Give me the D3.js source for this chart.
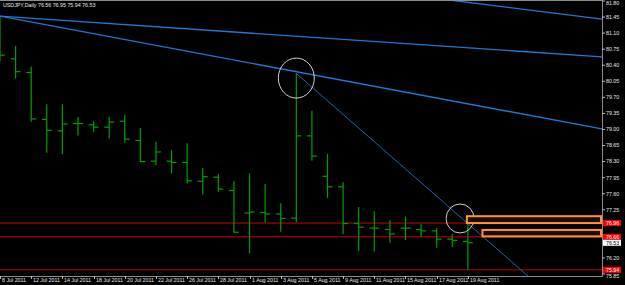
<!DOCTYPE html>
<html>
<head>
<meta charset="utf-8">
<script src="https://cdn.jsdelivr.net/npm/d3@7"></script>
<style>
  html, body { margin: 0; padding: 0; background: #000; }
  #chart { width: 625px; height: 285px; }
  text { font-family: "Liberation Sans", Arial, sans-serif; }
</style>
</head>
<body>
<div id="chart"></div>
<script>
/*
USDJPY daily bar chart
*/

// Bar dates (one per trading day)
var dates = ["8 Jul 2011", "11 Jul 2011", "12 Jul 2011", "13 Jul 2011", "14 Jul 2011", "15 Jul 2011",
	"18 Jul 2011", "19 Jul 2011", "20 Jul 2011", "21 Jul 2011", "22 Jul 2011",
	"25 Jul 2011", "26 Jul 2011", "27 Jul 2011", "28 Jul 2011", "29 Jul 2011",
	"1 Aug 2011", "2 Aug 2011", "3 Aug 2011", "4 Aug 2011", "5 Aug 2011",
	"8 Aug 2011", "9 Aug 2011", "10 Aug 2011", "11 Aug 2011", "12 Aug 2011",
	"15 Aug 2011", "16 Aug 2011", "17 Aug 2011", "18 Aug 2011", "19 Aug 2011"];

var opens  = [81.17, 80.54, 80.24, 79.22, 78.97, 79.13, 79.10, 79.05, 79.18, 78.76, 78.31, 78.31, 78.28, 77.87, 77.96, 77.67,
	77.18, 77.19, 77.16, 77.07, 78.86, 77.98, 77.75, 76.95, 76.85, 76.82, 76.85, 76.82, 76.79, 76.61, 76.56];
var highs  = [81.47, 80.82, 80.37, 79.55, 79.55, 79.27, 79.18, 79.27, 79.32, 79.03, 78.73, 78.55, 78.70, 78.16, 78.03, 77.87,
	78.04, 77.81, 77.39, 80.22, 79.41, 78.47, 77.85, 77.31, 77.22, 77.02, 77.10, 76.94, 76.85, 76.72, 76.95];
var lows   = [80.49, 80.11, 79.17, 78.49, 78.46, 78.87, 78.94, 78.81, 78.71, 78.29, 78.22, 78.04, 77.83, 77.58, 77.64, 76.75,
	76.30, 76.97, 76.77, 76.98, 78.32, 77.51, 76.72, 76.35, 76.34, 76.53, 76.59, 76.66, 76.42, 76.44, 75.94];
var closes = [80.62, 80.26, 79.23, 78.98, 79.12, 79.13, 79.05, 79.16, 78.79, 78.30, 78.51, 78.28, 77.88, 77.97, 77.70, 76.76,
	77.20, 77.16, 77.06, 78.86, 78.42, 77.75, 76.95, 76.87, 76.85, 76.72, 76.85, 76.79, 76.61, 76.58, 76.53];

// Price axis labels
var priceTicks = [81.80, 81.45, 81.10, 80.75, 80.40, 80.05, 79.70, 79.35, 79.00, 78.65, 78.30, 77.95, 77.60, 77.25, 76.90, 76.55, 76.20, 75.85];

// Horizontal lines, last price
var levels = [76.96, 76.66, 75.94];
var lastPrice = 76.53;

// Trend lines: [bar1, price1, bar2, price2]
var trendWide = [[30, 81.77, 38, 81.43], [0, 81.47, 30, 80.78], [0, 81.47, 30, 79.56]];
var trendThin = [[19, 80.22, 30, 76.95]];

// Rectangles: [start bar, top price, bottom price]
var zones = [[30, 77.11, 76.96], [31, 76.81, 76.67]];

// Circles: [bar, price]
var marks = [[19, 80.12], [29.5, 77.06]];

class BarChart{

	constructor(_parentElement){
		this.parentElement = _parentElement;

		this.initializeChart();
	}

	initializeChart(){
		var vis = this;

		vis.width = 602;
		vis.height = 276;

		vis.svg = d3.select(vis.parentElement).append("svg")
			.attr("width", 625)
			.attr("height", 285);

		vis.svg.append("rect")
			.attr("width", 625)
			.attr("height", 285)
			.attr("fill", "#000");

		vis.svg.append("clipPath")
			.attr("id", "plot-clip")
			.append("rect")
			.attr("width", vis.width)
			.attr("height", vis.height);

		// Scales
		vis.x = d3.scaleLinear()
			.domain([0, 38.6])
			.range([0, vis.width]);

		vis.y = d3.scaleLinear()
			.domain([75.85, 81.80])
			.range([274, 1]);

		vis.plot = vis.svg.append("g")
			.attr("clip-path", "url(#plot-clip)");

		vis.wrangleData();
	}

	wrangleData(){
		var vis = this;

		vis.bars = dates.map((d, i) => ({
			i: i, date: d, open: opens[i], high: highs[i], low: lows[i], close: closes[i]
		}));

		// tags shown on the price axis
		vis.tags = levels.map(d => ({v: d, bg: "#ff0000", fg: "#ffffff"}))
			.concat([{v: lastPrice, bg: "#ffffff", fg: "#000000"}]);

		// grid labels hidden under a tag
		vis.ticks = priceTicks.filter(p =>
			!vis.tags.some(t => Math.abs(vis.y(t.v) - vis.y(p)) < 3.5));

		vis.updateChart();
	}

	// small shift of a grid label that sits next to a tag
	nudge(p){
		var vis = this;
		var yp = vis.y(p), shift = Math.max(0, 3 - yp);
		vis.tags.forEach(t => {
			var d = yp - vis.y(t.v);
			if (Math.abs(d) < 6.5) shift = (d > 0 ? 6.5 : -6.5) - d;
		});
		return shift;
	}

	updateChart(){
		var vis = this;
		var x = vis.x, y = vis.y;

		// Frame
		vis.svg.append("path")
			.attr("d", "M0,0.5H" + (vis.width + 0.5) + "V" + (vis.height + 0.5) + "H0")
			.attr("fill", "none")
			.attr("stroke", "#8c8c8c")
			.attr("stroke-width", 1);

		// Red horizontal levels
		vis.plot.selectAll(".level")
			.data(levels)
			.enter().append("line")
			.attr("class", "level")
			.attr("x1", 0)
			.attr("x2", vis.width)
			.attr("y1", d => y(d))
			.attr("y2", d => y(d))
			.attr("stroke", "#c80000")
			.attr("stroke-width", 1);

		// OHLC bars
		var bar = vis.plot.selectAll(".bar")
			.data(vis.bars)
			.enter().append("g")
			.attr("class", "bar")
			.attr("stroke", "#00a000")
			.attr("stroke-width", 1.2);

		bar.append("line")
			.attr("x1", d => x(d.i))
			.attr("x2", d => x(d.i))
			.attr("y1", d => y(d.high))
			.attr("y2", d => y(d.low));

		bar.append("line")
			.attr("x1", d => x(d.i) - 5)
			.attr("x2", d => x(d.i))
			.attr("y1", d => y(d.open))
			.attr("y2", d => y(d.open));

		bar.append("line")
			.attr("x1", d => x(d.i))
			.attr("x2", d => x(d.i) + 5)
			.attr("y1", d => y(d.close))
			.attr("y2", d => y(d.close));

		// Trend lines, drawn across the plot
		var extend = function(t){
			var slope = (t[3] - t[1]) / (t[2] - t[0]);
			return [t[1] + (0 - t[0]) * slope, t[1] + (38.6 - t[0]) * slope];
		};

		vis.plot.selectAll(".trend")
			.data(trendWide)
			.enter().append("line")
			.attr("class", "trend")
			.attr("x1", x(0))
			.attr("x2", x(38.6))
			.attr("y1", d => y(extend(d)[0]))
			.attr("y2", d => y(extend(d)[1]))
			.attr("stroke", "#1f78d6")
			.attr("stroke-width", 1.4);

		vis.plot.selectAll(".ray")
			.data(trendThin)
			.enter().append("line")
			.attr("class", "ray")
			.attr("x1", d => x(d[0]))
			.attr("x2", x(38.6))
			.attr("y1", d => y(d[1]))
			.attr("y2", d => y(extend(d)[1]))
			.attr("stroke", "#1b63b4")
			.attr("stroke-width", 1);

		// Circles
		vis.plot.selectAll(".mark")
			.data(marks)
			.enter().append("ellipse")
			.attr("class", "mark")
			.attr("cx", d => x(d[0]))
			.attr("cy", d => y(d[1]))
			.attr("rx", (d, i) => i == 0 ? 18 : 14)
			.attr("ry", (d, i) => i == 0 ? 20 : 14.5)
			.attr("fill", "none")
			.attr("stroke", "#d2d2d2")
			.attr("stroke-width", 1);

		// Orange rectangles
		vis.plot.selectAll(".zone")
			.data(zones)
			.enter().append("rect")
			.attr("class", "zone")
			.attr("x", d => x(d[0]) - 1)
			.attr("y", d => y(d[1]))
			.attr("width", d => vis.width - x(d[0]))
			.attr("height", d => y(d[2]) - y(d[1]))
			.attr("fill", "#1e0c00")
			.attr("stroke", "#ff9430")
			.attr("stroke-width", 2);

		// Price axis
		var axis = vis.svg.append("g")
			.attr("transform", "translate(" + vis.width + ",0)");

		var tick = axis.selectAll(".ptick")
			.data(vis.ticks)
			.enter().append("g")
			.attr("class", "ptick")
			.attr("transform", d => "translate(0," + y(d) + ")");

		tick.append("line")
			.attr("x1", 0)
			.attr("x2", 3)
			.attr("stroke", "#bbbbbb");

		tick.append("text")
			.attr("x", 4)
			.attr("y", d => vis.nudge(d))
			.attr("dy", "0.35em")
			.attr("font-size", 5.3)
			.attr("fill", "#e8e8e8")
			.text(d => d.toFixed(2));

		// Price labels of the levels
		var tag = axis.selectAll(".tag")
			.data(vis.tags)
			.enter().append("g")
			.attr("class", "tag")
			.attr("transform", d => "translate(1," + y(d.v) + ")");

		tag.append("rect")
			.attr("x", 0)
			.attr("y", -3)
			.attr("width", 18)
			.attr("height", 6)
			.attr("fill", d => d.bg);

		tag.append("text")
			.attr("x", 3)
			.attr("dy", "0.35em")
			.attr("font-size", 5.3)
			.attr("fill", d => d.fg)
			.text(d => d.v.toFixed(2));

		// Date axis
		var dtick = vis.svg.selectAll(".dtick")
			.data(vis.bars.filter(d => d.i % 2 == 0))
			.enter().append("g")
			.attr("class", "dtick")
			.attr("transform", d => "translate(" + Math.round(x(d.i)) + "," + vis.height + ")");

		dtick.append("line")
			.attr("x1", 0.5)
			.attr("x2", 0.5)
			.attr("y1", 0)
			.attr("y2", 3)
			.attr("stroke", "#bbbbbb");

		dtick.append("text")
			.attr("x", 2)
			.attr("y", 6)
			.attr("font-size", 5.3)
			.attr("fill", "#e8e8e8")
			.text(d => d.date);

		// Title
		vis.svg.append("text")
			.attr("x", 3)
			.attr("y", 7)
			.attr("font-size", 5.3)
			.attr("fill", "#e8e8e8")
			.text("USDJPY,Daily  " + [opens[30], highs[30], lows[30], closes[30]].map(d => d.toFixed(2)).join(" "));
	}
}

var chart = new BarChart("#chart");
</script>
</body>
</html>
